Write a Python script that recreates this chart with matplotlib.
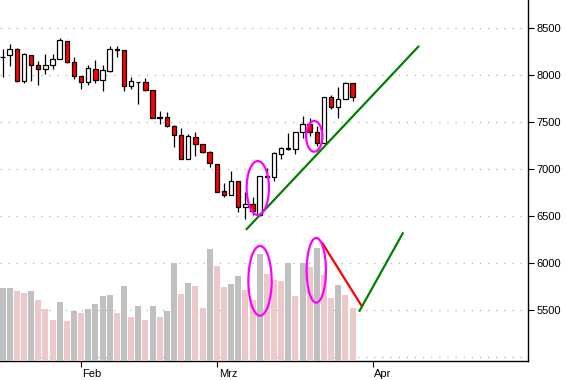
import matplotlib
matplotlib.use("Agg")
import matplotlib.pyplot as plt
from matplotlib.patches import Ellipse
from matplotlib.transforms import ScaledTranslation
import numpy as np

plt.rcParams['font.family'] = ['Liberation Sans', 'DejaVu Sans']

# ---- data ----
opens = [8195, 8213, 8277, 7943, 8213, 8106, 8071, 8106, 8170, 8362,
         8138, 7989, 7933, 8064, 7947, 8050, 8276, 8266, 7883, 7930,
         7926, 7840, 7551, 7553, 7461, 7362, 7106, 7340, 7266, 7181,
         7053, 6766, 6723, 6872, 6596, 6628, 6511, 6923, 6922, 7159,
         7221, 7213, 7394, 7479, 7394, 7277, 7766, 7659, 7745, 7915]
highs = [8277, 8333, 8287, 8238, 8213, 8152, 8227, 8227, 8397, 8362,
         8195, 7989, 8106, 8160, 8106, 8309, 8309, 8266, 7979, 7933,
         7968, 7840, 7621, 7610, 7472, 7440, 7376, 7401, 7266, 7195,
         7053, 6851, 6982, 6872, 6755, 6702, 6929, 7011, 7181, 7234,
         7386, 7394, 7567, 7547, 7457, 7773, 7787, 7872, 7925, 7915]
lows = [7986, 8103, 7933, 7922, 7943, 7901, 8014, 8064, 8170, 8128,
        7957, 7858, 7901, 7922, 7837, 8039, 8191, 7837, 7851, 7692,
        7833, 7543, 7479, 7447, 7241, 7106, 7106, 7145, 7170, 7028,
        6755, 6702, 6723, 6539, 6468, 6511, 6511, 6904, 6872, 7106,
        7206, 7159, 7330, 7355, 7248, 7277, 7638, 7542, 7745, 7730]
closes = [8199, 8277, 7943, 8227, 8113, 8071, 8106, 8170, 8376, 8138,
          7989, 7926, 8074, 7947, 8053, 8277, 8272, 7883, 7940, 7928,
          7840, 7543, 7549, 7457, 7362, 7106, 7351, 7269, 7181, 7064,
          6755, 6723, 6872, 6596, 6628, 6550, 6929, 6921, 7170, 7223,
          7219, 7394, 7479, 7394, 7277, 7766, 7659, 7745, 7915, 7766]
volumes = [730, 730, 700, 680, 700, 610, 520, 410, 590, 400,
           500, 480, 520, 570, 650, 660, 480, 750, 440, 550,
           410, 550, 440, 500, 980, 670, 780, 750, 530, 1120,
           950, 740, 770, 850, 710, 610, 1070, 870, 810, 800,
           980, 650, 980, 940, 1130, 860, 630, 760, 660, 530]
volume_up = [1, 1, 0, 0, 1, 0, 0, 0, 1, 0,
             1, 0, 1, 1, 1, 1, 0, 1, 0, 1,
             0, 1, 0, 1, 1, 0, 1, 0, 0, 1,
             0, 0, 1, 1, 0, 0, 1, 0, 0, 0,
             1, 0, 1, 0, 1, 0, 0, 1, 0, 0]
month_labels = ['Feb', 'Mrz', 'Apr']
month_pos = [11.0, 30.05, 51.85]
price_ticks = [5500, 6000, 6500, 7000, 7500, 8000, 8500]
grid_levels = [5000, 5500, 6000, 6500, 7000, 7500, 8000, 8500]

# annotations (data coordinates)
trend_price = ([34.19, 58.21], [6363, 8304])
vol_red = ([44.8, 50.2], [1177, 560])
vol_green = ([50.0, 56.03], [503, 1277])
price_ellipses = [(35.74, 6799, 3.12, 575), (43.64, 7350, 2.28, 327)]
vol_ellipses = [(36.05, 802, 3.26, 697), (43.93, 907, 2.70, 647)]

# ---- figure ----
W, H = 566, 380
fig = plt.figure(figsize=(W / 100, H / 100), dpi=100)
ax = fig.add_axes([0, 19 / H, 528 / W, 361 / H])
ax.set_xlim(-0.35, 73.57)
ax.set_ylim(4958, 8801)

x = np.arange(len(opens))

for g in grid_levels:
    ax.axhline(g, color='#a8b8a8', lw=0.9, ls=(0, (1, 5.5)), zorder=0)

# wicks
ax.vlines(x, lows, highs, color='black', lw=0.9, zorder=2)
# bodies
o = np.array(opens, float)
c = np.array(closes, float)
body_bottom = np.minimum(o, c)
body_h = np.abs(c - o)
body_colors = ['white' if cc >= oo else '#ff0000' for oo, cc in zip(o, c)]
ax.bar(x, body_h, bottom=body_bottom, width=0.62, color=body_colors,
       edgecolor='black', linewidth=0.9, zorder=3)

ax.plot(*trend_price, color='#008000', lw=1.6, zorder=4)
for cx, cy, w, h in price_ellipses:
    ax.add_patch(Ellipse((cx, cy), w, h, fill=False, edgecolor='#ff00ff', lw=1.6, zorder=5))

# volume axis
ax2 = ax.twinx()
ax2.set_ylim(0, 3610)
ax2.set_xlim(ax.get_xlim())
vcolors = ['#c0c0c0' if u else '#ecc8c8' for u in volume_up]
ax2.bar(x, volumes, width=0.84, color=vcolors, zorder=2)
ax2.plot(*vol_red, color='#ff0000', lw=1.6, zorder=4)
ax2.plot(*vol_green, color='#008000', lw=1.6, zorder=4)
for cx, cy, w, h in vol_ellipses:
    ax2.add_patch(Ellipse((cx, cy), w, h, fill=False, edgecolor='#ff00ff', lw=1.6, zorder=5))
ax2.set_yticks([])
for s in ax2.spines.values():
    s.set_visible(False)
ax2.tick_params(axis='both', which='both', length=0, labelright=False, labelbottom=False)

# axes styling
for side in ['left', 'top']:
    ax.spines[side].set_visible(False)
for side in ['right', 'bottom']:
    ax.spines[side].set_linewidth(1.0)
    ax.spines[side].set_color('black')
ax.yaxis.tick_right()
ax.set_yticks(price_ticks)
ax.tick_params(axis='y', direction='out', length=4, width=0.8, pad=2, labelsize=8,
               colors='black')
ax.set_xticks(month_pos, month_labels)
ax.tick_params(axis='x', direction='out', length=4, width=0.8, pad=2, labelsize=8)
offset = ScaledTranslation(1.5 / 100, 0, fig.dpi_scale_trans)
for lbl in ax.get_xticklabels():
    lbl.set_horizontalalignment('left')
    lbl.set_transform(lbl.get_transform() + offset)

fig.savefig('out.png', dpi=100)
